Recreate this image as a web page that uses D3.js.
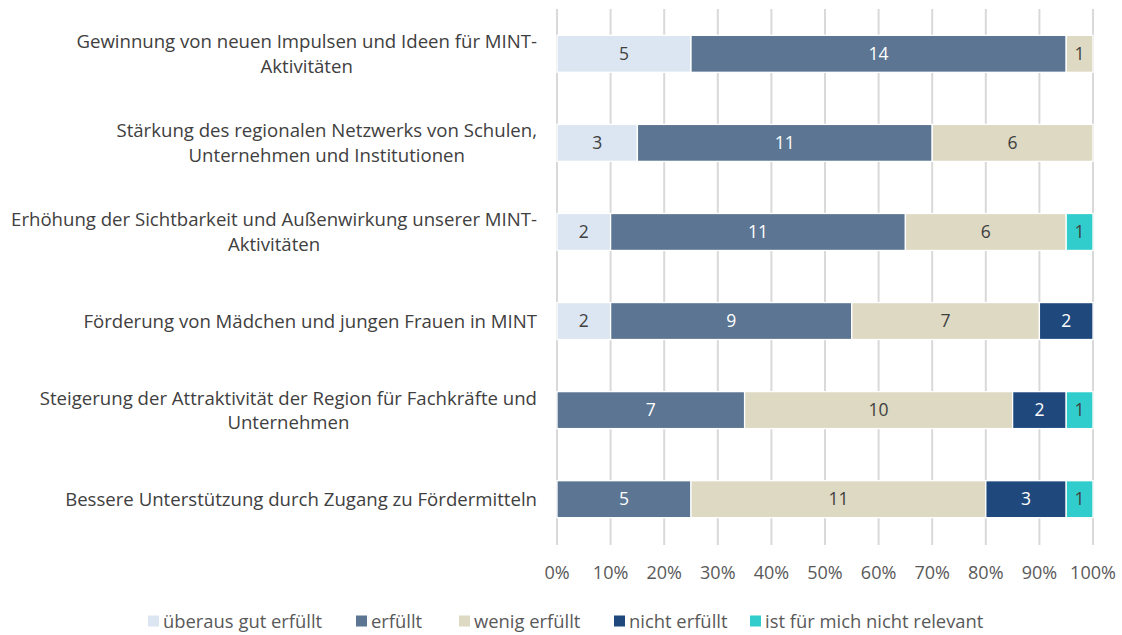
<!DOCTYPE html>
<html>
<head>
<meta charset="utf-8">
<script src="https://cdn.jsdelivr.net/npm/d3@7"></script>
<style>
  body { margin: 0; background: #fff; }
  svg text { font-family: "Open Sans", Lato, sans-serif; }
</style>
</head>
<body>
<div id="chart"></div>
<script>
// category labels (already wrapped like the original)
const categories = [
    ["Gewinnung von neuen Impulsen und Ideen für MINT-", "Aktivitäten"],
    ["Stärkung des regionalen Netzwerks von Schulen,", "Unternehmen und Institutionen"],
    ["Erhöhung der Sichtbarkeit und Außenwirkung unserer MINT-", "Aktivitäten"],
    ["Förderung von Mädchen und jungen Frauen in MINT"],
    ["Steigerung der Attraktivität der Region für Fachkräfte und", "Unternehmen"],
    ["Bessere Unterstützung durch Zugang zu Fördermitteln"]
];
const seriesNames = ["überaus gut erfüllt", "erfüllt", "wenig erfüllt", "nicht erfüllt", "ist für mich nicht relevant"];
const ueberausGut = [5, 3, 2, 2, 0, 0];
const erfuellt    = [14, 11, 11, 9, 7, 5];
const wenig       = [1, 6, 6, 7, 10, 11];
const nicht       = [0, 0, 0, 2, 2, 3];
const irrelevant  = [0, 0, 1, 0, 1, 1];
const tickValues = [0, 0.1, 0.2, 0.3, 0.4, 0.5, 0.6, 0.7, 0.8, 0.9, 1];

const colors = ["#dce6f2", "#5b7593", "#ddd9c3", "#1f497d", "#31cdcd"];
const labelColors = ["#404040", "#ffffff", "#404040", "#ffffff", "#404040"];

const width = 1122, height = 635;
const svg = d3.select("#chart").append("svg")
    .attr("width", width).attr("height", height);

const x = d3.scaleLinear().domain([0, 1]).range([557, 1093]);
const y = d3.scaleBand().domain(d3.range(categories.length)).range([9.5, 543.5]).paddingInner(0.585).paddingOuter(0.29);

// gridlines
svg.append("g").selectAll("line").data(tickValues).enter().append("line")
    .attr("x1", d => x(d)).attr("x2", d => x(d))
    .attr("y1", 9).attr("y2", 545)
    .attr("stroke", "#d9d9d9").attr("stroke-width", 2);

const allSeries = [ueberausGut, erfuellt, wenig, nicht, irrelevant];
const rows = categories.map((c, i) => {
    const vals = allSeries.map(s => s[i]);
    const total = d3.sum(vals);
    let acc = 0;
    return vals.map((v, k) => {
        const seg = { row: i, k: k, v: v, x0: acc / total, x1: (acc + v) / total };
        acc += v;
        return seg;
    }).filter(s => s.v > 0);
});

const seg = svg.append("g").selectAll("g").data(rows.flat()).enter().append("g");
seg.append("rect")
    .attr("x", d => x(d.x0)).attr("width", d => x(d.x1) - x(d.x0))
    .attr("y", d => y(d.row)).attr("height", y.bandwidth())
    .attr("fill", d => colors[d.k])
    .attr("stroke", "#fff").attr("stroke-width", 1.3);
seg.append("text")
    .attr("x", d => (x(d.x0) + x(d.x1)) / 2)
    .attr("y", d => y(d.row) + y.bandwidth() / 2)
    .attr("dy", "0.36em")
    .attr("text-anchor", "middle")
    .attr("fill", d => labelColors[d.k])
    .style("font-size", "17.5px")
    .text(d => d.v);

// category labels, centred block ending at the axis
const catG = svg.append("g");
categories.forEach((lines, i) => {
    const g = catG.append("g");
    const cy = y(i) + y.bandwidth() / 2;
    const lh = 24.5;
    const texts = lines.map((l, j) => g.append("text")
        .attr("y", cy + (j - (lines.length - 1) / 2) * lh)
        .attr("dy", "0.36em")
        .attr("text-anchor", "middle")
        .attr("fill", "#404040")
        .style("font-size", "18.6px")
        .text(l));
    const maxW = d3.max(texts, t => t.node().getComputedTextLength());
    texts.forEach(t => t.attr("x", 537 - maxW / 2));
});

// x-axis ticks
svg.append("g").selectAll("text").data(tickValues).enter().append("text")
    .attr("x", d => x(d)).attr("y", 573).attr("dy", "0.36em")
    .attr("text-anchor", "middle").attr("fill", "#595959")
    .style("font-size", "18px")
    .text(d3.format(".0%"));

// legend
const legendX = [148, 356, 459, 614, 750];
const leg = svg.append("g").selectAll("g").data(seriesNames).enter().append("g")
    .attr("transform", (d, i) => `translate(${legendX[i]},621)`);
leg.append("rect").attr("x", 0).attr("y", -5.5).attr("width", 11).attr("height", 11)
    .attr("fill", (d, i) => colors[i]);
leg.append("text").attr("x", 15).attr("dy", "0.36em")
    .attr("fill", "#595959").style("font-size", "18.4px").text(d => d);
</script>
</body>
</html>
